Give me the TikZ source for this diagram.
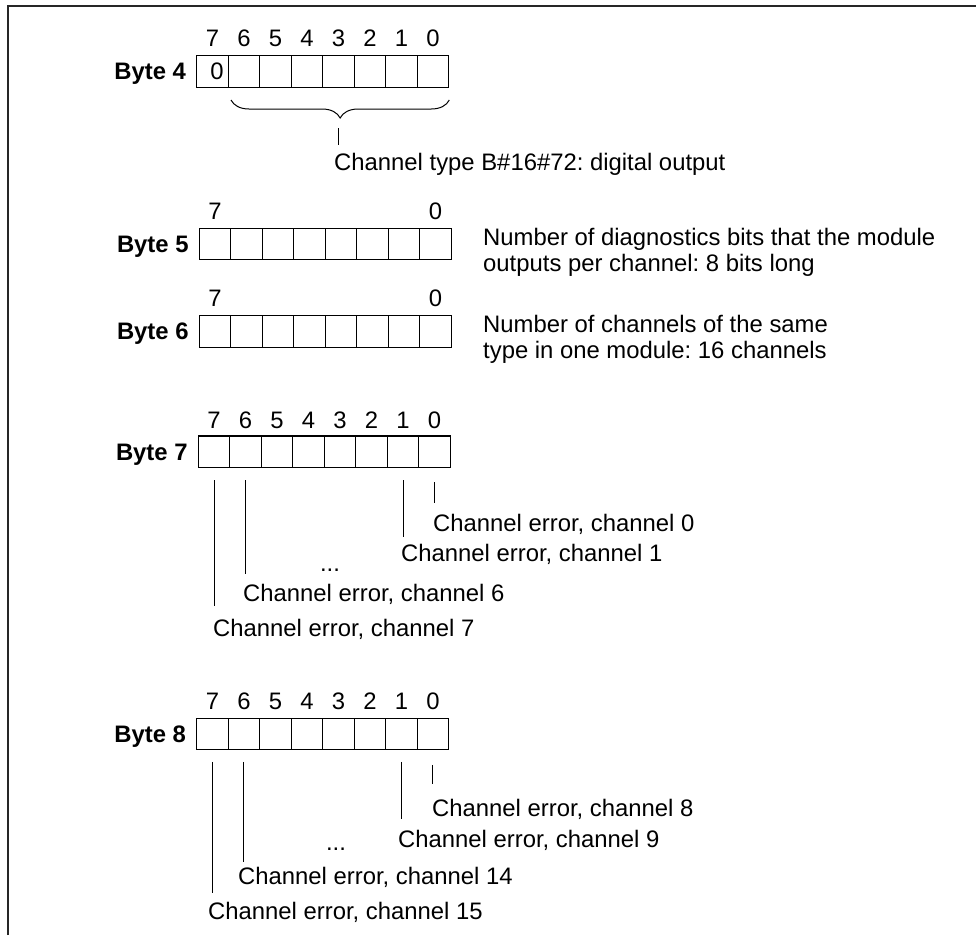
\documentclass[tikz,border=0pt]{standalone}
\usepackage{fontspec}
\setmainfont{Liberation Sans}
\usetikzlibrary{decorations.pathreplacing}
\newcommand\myfont{\fontsize{23.85}{26}\selectfont}
\newcommand\byterow[4]{%
  \foreach \i in {0,...,7}{\node[cell] (#1c\i) at ({#2+(7-\i)*31.5},#3) {};}
  \node[bytelbl] (#1lbl) at ([xshift=-10.5pt,yshift=-8.5pt]#1c7.west) {#4};
}
\begin{document}
\frenchspacing
\begin{tikzpicture}[x=1pt,y=-1pt,
  cell/.style={draw, line width=1.2pt, minimum width=31.5pt, minimum height=31.5pt, inner sep=0pt, outer sep=0pt, anchor=north west},
  txt/.style={inner sep=0pt, anchor=base west, font=\myfont},
  bitnum/.style={inner sep=0pt, anchor=base, font=\myfont},
  bytelbl/.style={inner sep=0pt, anchor=base east, font=\myfont\bfseries},
  lead/.style={line width=1pt},
  frame/.style={line width=2pt, black!85}]
\useasboundingbox (0,0) rectangle (976,935);
\draw[frame] (8,935) -- (8,6) -- (976,6);

% Byte 4
\byterow{b4}{196.7}{55.7}{Byte 4}
\foreach \i in {0,...,7}{\node[bitnum] (b4n\i) at ([yshift=9pt]b4c\i.north) {\i};}
\node[bitnum] (b4zero) at ([xshift=4.5pt,yshift=-8.5pt]b4c7.center) {0};
\coordinate (brL) at (231,100);
\coordinate (brR) at (449.3,100);
\draw[lead, decorate, decoration={brace, mirror, amplitude=18pt}] (brL) -- (brR);
\coordinate (brTop) at (338,128);
\coordinate (brBot) at (338,145);
\draw[lead] (brTop) -- (brBot);
\node[txt] (t4) at (334,170) {Channel type B\#16\#72: digital output};

% Byte 5
\byterow{b5}{199.3}{228.3}{Byte 5}
\node[bitnum] (b5n7) at ([yshift=9pt]b5c7.north) {7};
\node[bitnum] (b5n0) at ([yshift=9pt]b5c0.north) {0};
\node[txt] (t5a) at (483,245.5) {Number of diagnostics bits that the module};
\node[txt] (t5b) at (483,271.5) {outputs per channel: 8 bits long};

% Byte 6
\byterow{b6}{199.3}{315.7}{Byte 6}
\node[bitnum] (b6n7) at ([yshift=9pt]b6c7.north) {7};
\node[bitnum] (b6n0) at ([yshift=9pt]b6c0.north) {0};
\node[txt] (t6a) at (483,332.5) {Number of channels of the same};
\node[txt] (t6b) at (483,358.5) {type in one module: 16 channels};

% Byte 7
\byterow{b7}{198.3}{436}{Byte 7}
\foreach \i in {0,...,7}{\node[bitnum] (b7n\i) at ([yshift=8pt]b7c\i.north) {\i};}
\draw[lead] ([yshift=-12.5pt]b7c7.south) -- ([yshift=-138.5pt]b7c7.south);
\draw[lead] ([yshift=-12.5pt]b7c6.south) -- ([yshift=-106.5pt]b7c6.south);
\draw[lead] ([yshift=-12.5pt]b7c1.south) -- ([yshift=-69.5pt]b7c1.south);
\draw[lead] ([yshift=-14.5pt]b7c0.south) -- ([yshift=-35.5pt]b7c0.south);
\node[txt] (t7c0) at (433,531.5) {Channel error, channel 0};
\node[txt] (t7c1) at (401,561.5) {Channel error, channel 1};
\node[bitnum] (t7dots) at (330,571) {...};
\node[txt] (t7c6) at (243,601.5) {Channel error, channel 6};
\node[txt] (t7c7) at (213,636.5) {Channel error, channel 7};

% Byte 8
\byterow{b8}{196.7}{718.3}{Byte 8}
\foreach \i in {0,...,7}{\node[bitnum] (b8n\i) at ([yshift=9pt]b8c\i.north) {\i};}
\draw[lead] ([yshift=-12pt]b8c7.south) -- ([yshift=-143pt]b8c7.south);
\draw[lead] ([yshift=-12pt]b8c6.south) -- ([yshift=-112pt]b8c6.south);
\draw[lead] ([yshift=-12pt]b8c1.south) -- ([yshift=-69pt]b8c1.south);
\draw[lead] ([yshift=-15pt]b8c0.south) -- ([yshift=-34pt]b8c0.south);
\node[txt] (t8c0) at (432,816) {Channel error, channel 8};
\node[txt] (t8c1) at (398,847) {Channel error, channel 9};
\node[bitnum] (t8dots) at (336,850) {...};
\node[txt] (t8c6) at (238,884.5) {Channel error, channel 14};
\node[txt] (t8c7) at (208,919) {Channel error, channel 15};
\end{tikzpicture}
\end{document}
